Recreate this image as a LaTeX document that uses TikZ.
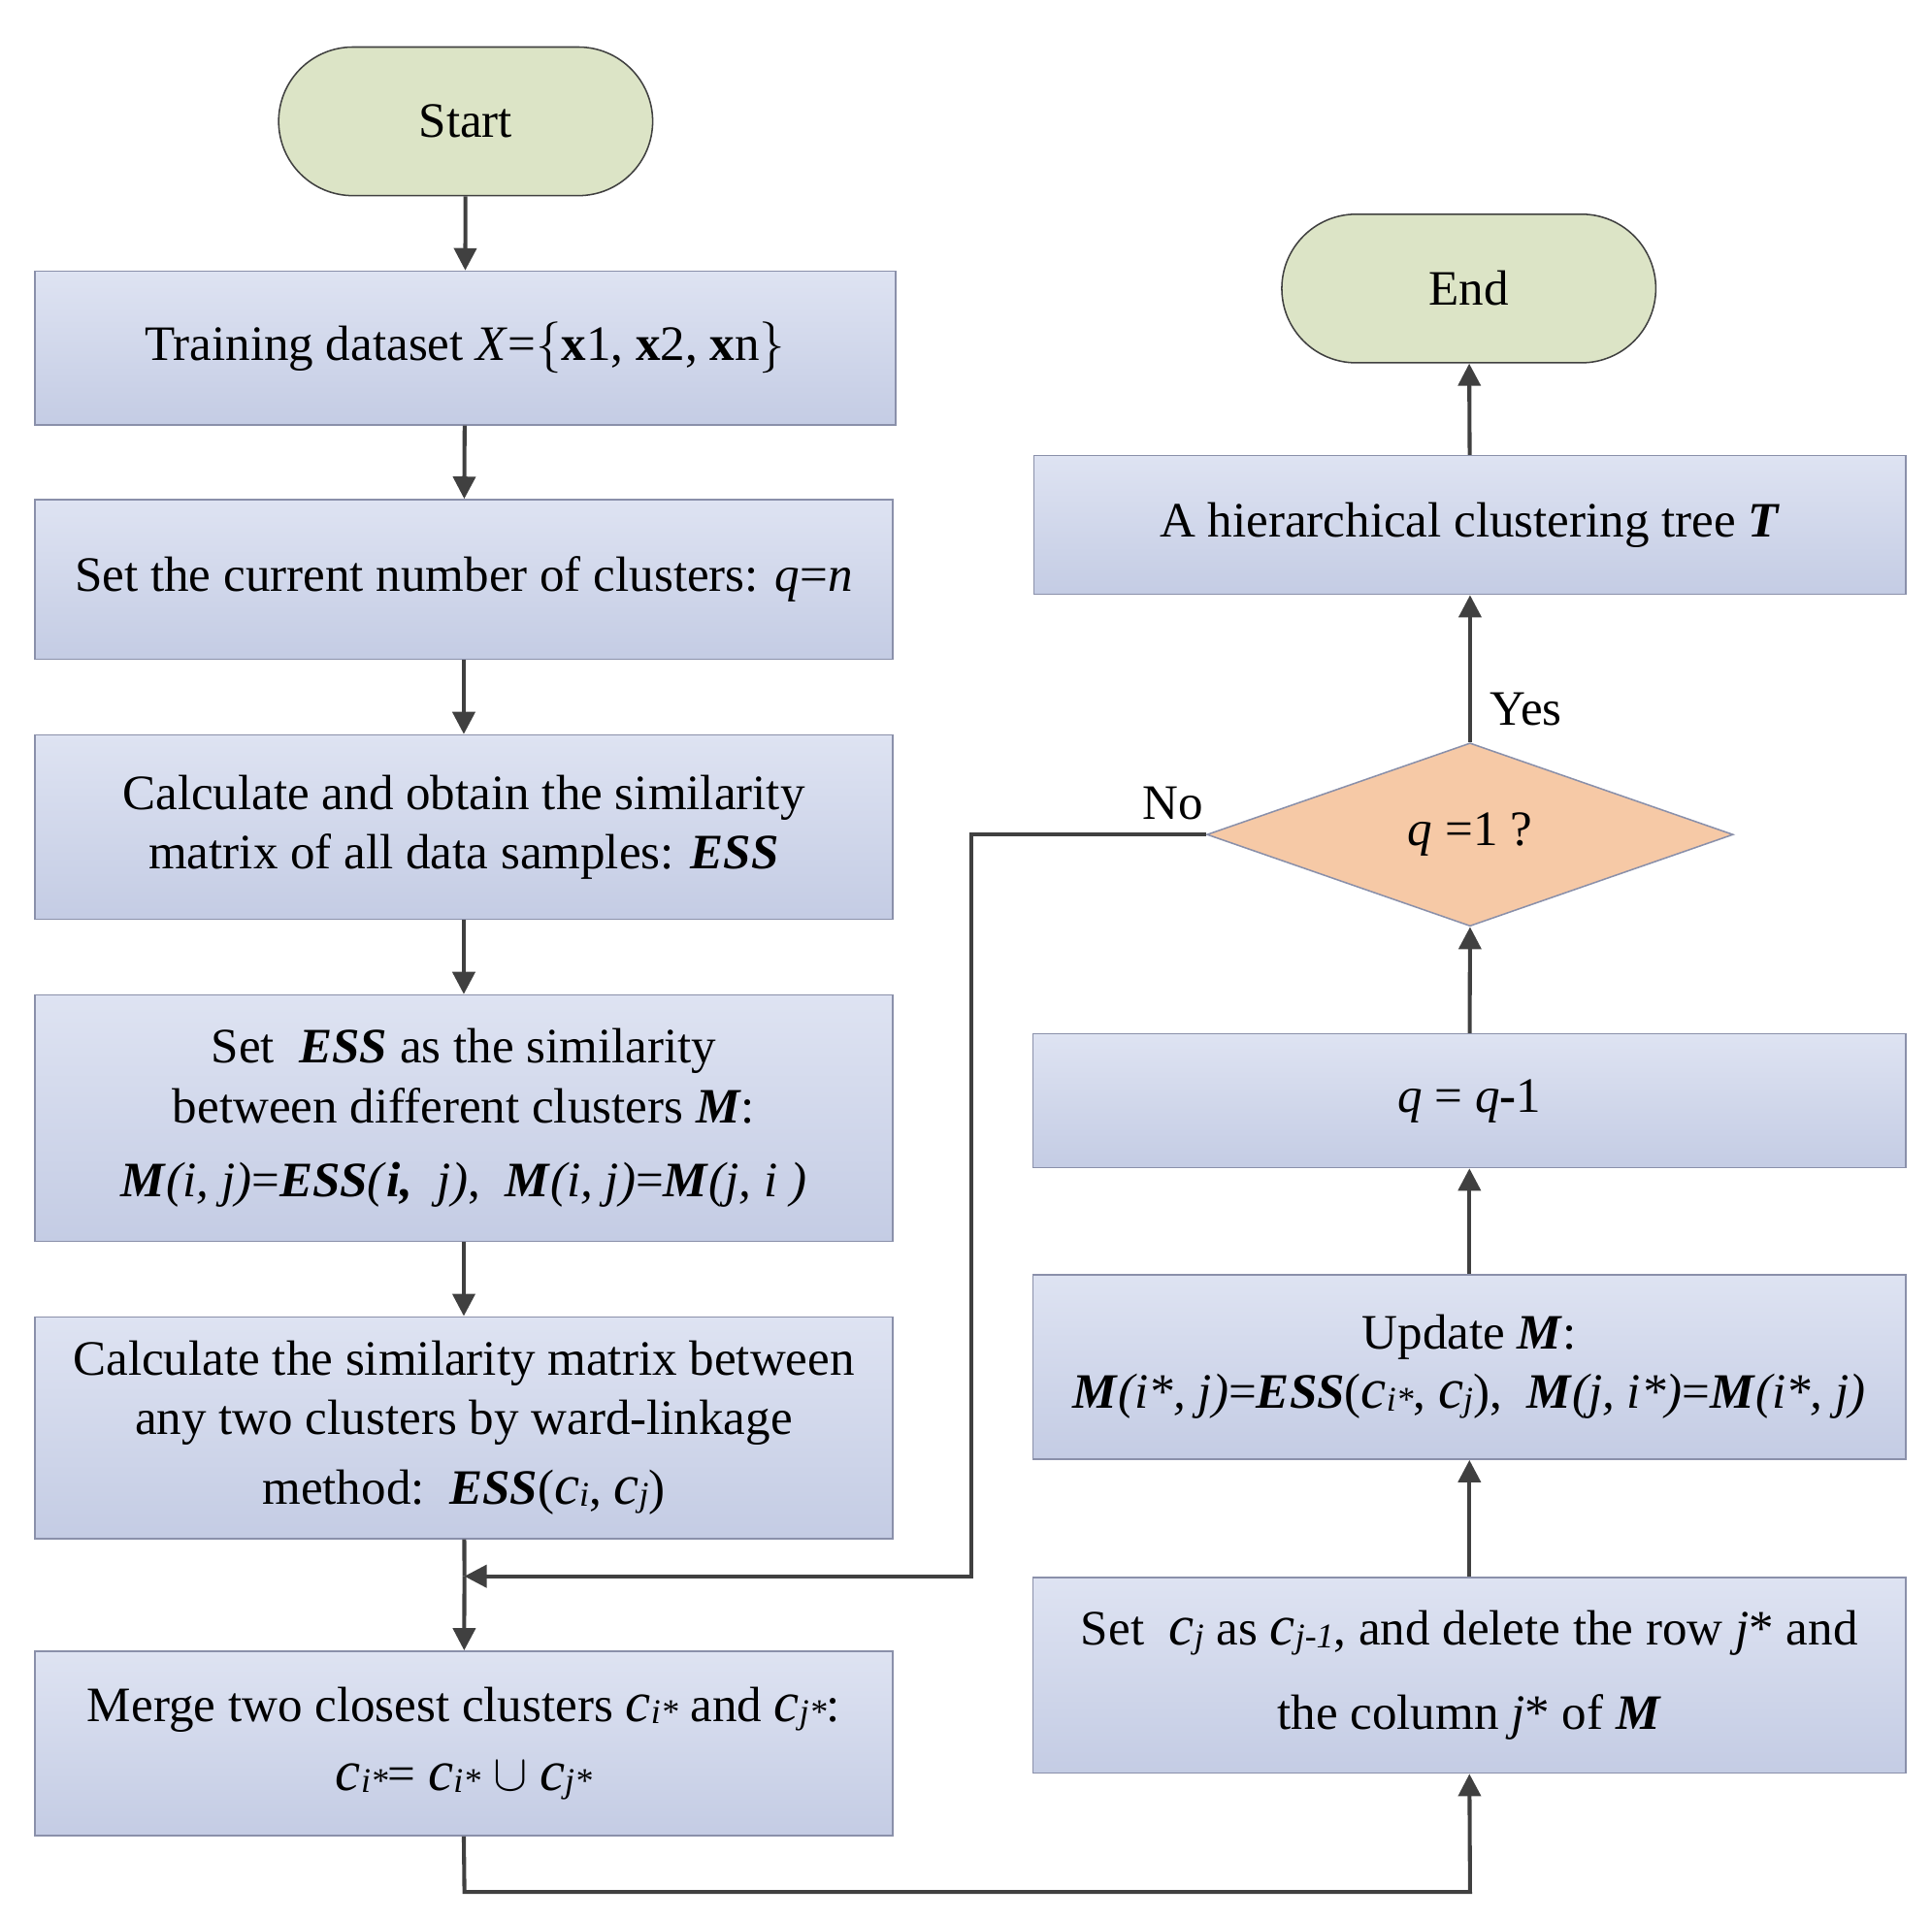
\documentclass[tikz,border=0pt]{standalone}
\usepackage{fontspec}
\setmainfont{Liberation Serif}
\usetikzlibrary{shapes.geometric,arrows.meta}
\definecolor{bord}{HTML}{8A90AA}
\definecolor{arr}{HTML}{404040}
\definecolor{btop}{HTML}{DEE3F2}
\definecolor{bbot}{HTML}{C4CCE4}
\definecolor{tfill}{HTML}{DCE4C6}
\definecolor{dfill}{HTML}{F6C9A6}
\newcommand{\bi}[1]{\textbf{\textit{#1}}}
\newcommand{\cc}[1]{{\fontsize{23}{22}\selectfont\textit{c}}\raisebox{-0.1ex}{\fontsize{14}{14}\selectfont\textit{#1}}}
\begin{document}
\begin{tikzpicture}[x=0.5pt,y=-0.5pt,
  every node/.style={font=\fontsize{20}{24}\selectfont},
  box/.style={draw=bord,line width=0.6pt,top color=btop,bottom color=bbot,align=center,inner sep=0pt},
  term/.style={draw=arr,line width=0.6pt,fill=tfill,rounded corners=30pt,minimum width=151pt,minimum height=60pt},
  ar/.style={draw=arr,line width=1.6pt,-{Triangle[length=9pt,width=9pt]}}]
\useasboundingbox (0,0) rectangle (1560,1550);
\node[term] (start) at (376,98) {Start};
\node[term] (end) at (1186,233) {End};
\node[box,minimum width=347.5pt,minimum height=62pt] (b1) at (375.5,281) {Training dataset \textit{X}=$\{$\textbf{x}1, \textbf{x}2, \textbf{x}n$\}$};
\node[box,minimum width=346.5pt,minimum height=64.5pt] (b2) at (374.5,468) {Set the current number of clusters: \textit{q}=\textit{n}};
\node[box,minimum width=346.5pt,minimum height=74.5pt] (b3) at (374.5,668) {Calculate and obtain the similarity\\matrix of all data samples: \bi{ESS}};
\node[box,minimum width=346.5pt,minimum height=99.5pt] (b4) at (374.5,903) {Set \ \bi{ESS} as the similarity\\between different clusters \bi{M}:\\[6pt]\bi{M}\textit{(i, j)}=\bi{ESS}\textit{(}\bi{i,}\textit{\ \ j)},\ \ \bi{M}\textit{(i, j)}=\bi{M}\textit{(j, i )}};
\node[box,minimum width=346.5pt,minimum height=89.5pt] (b5) at (374.5,1153) {Calculate the similarity matrix between\\any two clusters by ward-linkage\\[4pt]method:\ \ \bi{ESS}(\cc{i}, \cc{j})};
\node[box,minimum width=346.5pt,minimum height=74.5pt] (b6) at (374.5,1408) {Merge two closest clusters \cc{i*} and \cc{j*}:\\[4pt]\cc{i*}= \cc{i*} $\cup$ \cc{j*}};
\node[box,minimum width=352pt,minimum height=56pt] (r1) at (1187,424) {A hierarchical clustering tree \bi{T}};
\node[diamond,draw=bord,line width=0.6pt,fill=dfill,minimum width=212.5pt,minimum height=74pt,inner sep=0pt,aspect=2.9] (d) at (1187,674) {\textit{q} =1 ?};
\node[box,minimum width=352.5pt,minimum height=54pt] (r2) at (1186.5,889) {\textit{q} = \textit{q}\textbf{-}1};
\node[box,minimum width=352.5pt,minimum height=74.5pt] (r3) at (1186.5,1104) {Update \bi{M}:\\\bi{M}\textit{(i*, j)}=\bi{ESS}(\cc{i*},\ \cc{j}),\ \ \bi{M}\textit{(j, i*)}=\bi{M}\textit{(i*, j)}};
\node[box,minimum width=352.5pt,minimum height=79pt] (r4) at (1186.5,1353) {Set \ \cc{j} as \cc{j-1}, and delete the row \textit{j}* and\\[10pt]the column \textit{j}* of \bi{M}};
\coordinate (m) at (375,1273);
\draw[ar] (start) -- (b1);
\draw[ar] (b1) -- (b2);
\draw[ar] (b2) -- (b3);
\draw[ar] (b3) -- (b4);
\draw[ar] (b4) -- (b5);
\draw[draw=arr,line width=1.6pt] (b5) -- (m);
\draw[ar] (m) -- (b6);
\draw[ar] (d.west) -- (784,674) -- (784,1273) -- (m);
\draw[ar] (b6.south) -- (375,1528) -- (1187,1528) -- (r4.south);
\draw[ar] (r4) -- (r3);
\draw[ar] (r3) -- (r2);
\draw[ar] (r2) -- (d.south);
\draw[ar] (d.north) -- (r1);
\draw[ar] (r1) -- (end);
\node at (1232,573) {Yes};
\node at (947,649) {No};
\end{tikzpicture}
\end{document}
